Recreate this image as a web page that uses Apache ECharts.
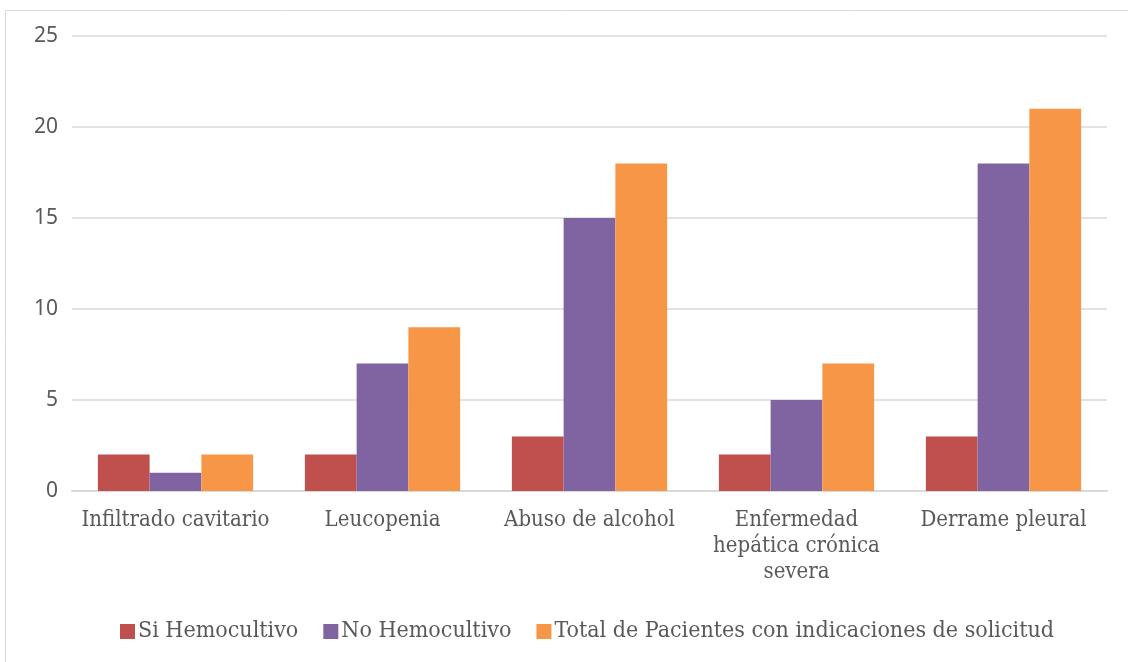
<!DOCTYPE html>
<html>
<head>
<meta charset="utf-8">
<script src="https://cdn.jsdelivr.net/npm/echarts@6/dist/echarts.min.js"></script>
<style>
  html, body { margin: 0; padding: 0; background: #ffffff; }
  #chart { width: 1128px; height: 662px; }
</style>
</head>
<body>
<div id="chart"></div>
<script>
// Indicaciones de hemocultivo por hallazgo clínico
const categories = [
  'Infiltrado cavitario',
  'Leucopenia',
  'Abuso de alcohol',
  'Enfermedad\nhepática crónica\nsevera',
  'Derrame pleural'
];
const siHemocultivo = [2, 2, 3, 2, 3];
const noHemocultivo = [1, 7, 15, 5, 18];
const totalPacientes = [2, 9, 18, 7, 21];
const seriesNames = [
  'Si Hemocultivo',
  'No Hemocultivo',
  'Total de Pacientes con indicaciones de solicitud'
];
const colors = ['#c0504d', '#8064a2', '#f79646'];

const serif = '"DejaVu Serif Condensed", "DejaVu Serif", serif';
const chart = echarts.init(document.getElementById('chart'));

const makeSeries = (name, data, color) => ({
  name: name,
  type: 'bar',
  data: data,
  barGap: '0%',
  barCategoryGap: '25%',
  itemStyle: { color: color },
  emphasis: { disabled: true }
});

chart.setOption({
  animation: false,
  backgroundColor: '#ffffff',
  color: colors,
  graphic: [{
    type: 'rect',
    shape: { x: 5.5, y: 10.5, width: 1140, height: 670 },
    style: { fill: 'none', stroke: '#d9d9d9', lineWidth: 1 },
    silent: true
  }],
  grid: { left: 72, right: 21, top: 36, bottom: 171, containLabel: false },
  legend: {
    bottom: 14,
    left: 115,
    itemWidth: 15,
    itemHeight: 15,
    itemGap: 25,
    icon: 'rect',
    textStyle: { fontFamily: serif, fontSize: 23, color: '#595959', padding: [0, 0, 0, -2] },
    data: seriesNames
  },
  xAxis: {
    type: 'category',
    data: categories,
    axisLine: { show: true, lineStyle: { color: '#d9d9d9', width: 2 } },
    axisTick: { show: false },
    axisLabel: {
      fontFamily: serif,
      fontSize: 22,
      color: '#595959',
      margin: 16,
      lineHeight: 26,
      interval: 0
    }
  },
  yAxis: {
    type: 'value',
    min: 0,
    max: 25,
    interval: 5,
    axisLine: { show: false },
    axisTick: { show: false },
    splitLine: { lineStyle: { color: '#d9d9d9', width: 1.5 } },
    axisLabel: {
      fontFamily: '"Noto Sans", sans-serif',
      fontSize: 21,
      color: '#595959',
      margin: 14
    }
  },
  series: [
    makeSeries(seriesNames[0], siHemocultivo, colors[0]),
    makeSeries(seriesNames[1], noHemocultivo, colors[1]),
    makeSeries(seriesNames[2], totalPacientes, colors[2])
  ]
});
</script>
</body>
</html>
